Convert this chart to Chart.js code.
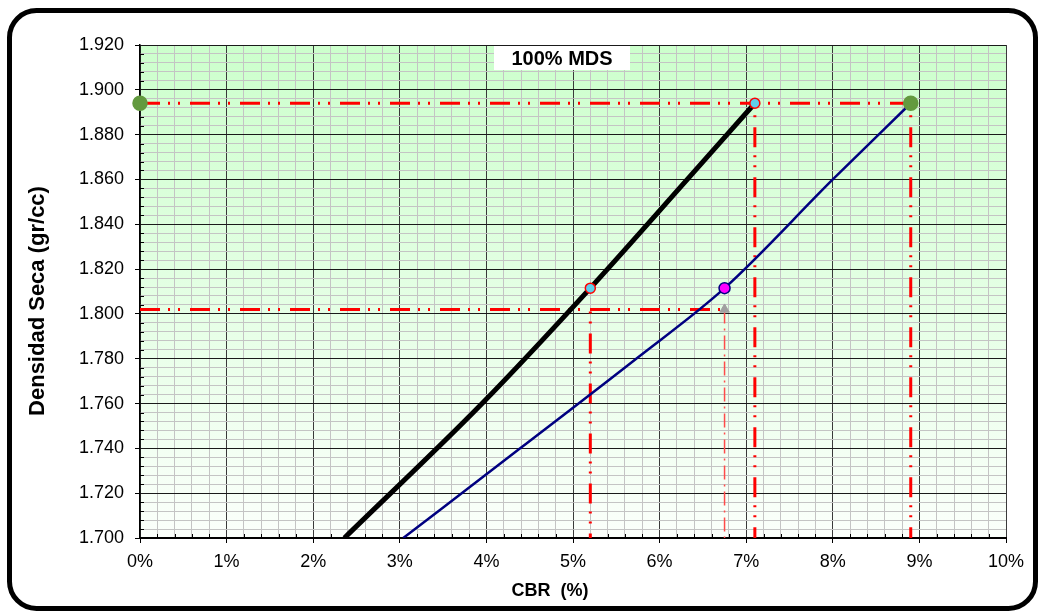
<!DOCTYPE html>
<html>
<head>
<meta charset="utf-8">
<title>CBR - Densidad Seca</title>
<script src="https://cdn.jsdelivr.net/npm/chart.js@4.4.1/dist/chart.umd.min.js"></script>
<style>
  html, body { margin: 0; padding: 0; background: #fff; }
  #wrap { width: 1040px; height: 611px; }
</style>
</head>
<body>
<div id="wrap"><canvas id="cbrChart" width="1040" height="611"></canvas></div>
<script>
// CBR vs densidad seca
// values

// AXES
const cbrRange  = [0, 10];          // CBR (%)
const densRange = [1.700, 1.920];   // gr/cc
const cbrSteps  = [0.2, 1];         // minor, major
const densSteps = [0.004, 0.02];

// CURVE 1 (black, thick)
const blackCbr  = [2.36, 3.95, 5.20, 6.32, 7.10];
const blackDens = [1.700, 1.760, 1.8115, 1.860, 1.894];

// CURVE 2 (navy)
const blueCbr  = [3.04, 4.39, 5.73, 6.75, 8.00, 8.90];
const blueDens = [1.700, 1.740, 1.780, 1.8115, 1.860, 1.894];

// GUIDE LINES (red, long dash dot dot)
const guideCbr  = [[0, 8.9], [0, 6.75], [7.1, 7.1], [8.9, 8.9], [5.2, 5.2]];
const guideDens = [[1.894, 1.894], [1.802, 1.802], [1.894, 1.700], [1.894, 1.700], [1.802, 1.700]];
const thinGuideCbr  = [6.75, 6.75];
const thinGuideDens = [1.802, 1.700];

// MARKERS
const greenCbr = [0, 8.9];   const greenDens = [1.894, 1.894];
const cyanCbr  = [5.2, 7.1]; const cyanDens  = [1.8115, 1.894];
const pinkCbr  = [6.75];     const pinkDens  = [1.8115];
const triCbr   = [6.75];     const triDens   = [1.802];

const FONT = "'Liberation Sans', Arial, sans-serif";

// pair x and y lists into chart points
function toPoints(xs, ys) {
  return xs.map((x, i) => ({ x, y: ys[i] }));
}

function isMajor(value, step) {
  const k = value / step;
  return Math.abs(k - Math.round(k)) < 1e-6;
}

function markerSet(xs, ys, opts) {
  return Object.assign({
    data: toPoints(xs, ys),
    showLine: false,
    clip: false,
    borderWidth: 1.5
  }, opts);
}

// background, minor ticks, title box, axis titles, frame
const sheetPlugin = {
  id: 'sheet',
  beforeDraw(chart) {
    const { ctx, chartArea: a } = chart;
    const g = ctx.createLinearGradient(0, a.top, 0, a.bottom);
    g.addColorStop(0, '#ccffcc');
    g.addColorStop(1, '#fbfffb');
    ctx.save();
    ctx.fillStyle = g;
    ctx.fillRect(a.left, a.top, a.right - a.left, a.bottom - a.top);
    ctx.restore();
  },
  beforeDatasetsDraw(chart) {
    const { ctx, chartArea: a, scales } = chart;
    ctx.save();
    ctx.strokeStyle = '#000';
    ctx.lineWidth = 1;
    ctx.beginPath();
    scales.x.ticks.forEach(t => {
      if (isMajor(t.value, cbrSteps[1])) return;
      const px = Math.round(scales.x.getPixelForValue(t.value)) + 0.5;
      ctx.moveTo(px, a.bottom);
      ctx.lineTo(px, a.bottom - 4);
    });
    scales.y.ticks.forEach(t => {
      if (isMajor(t.value, densSteps[1])) return;
      const py = Math.round(scales.y.getPixelForValue(t.value)) + 0.5;
      ctx.moveTo(a.left, py);
      ctx.lineTo(a.left + 4, py);
    });
    ctx.stroke();
    ctx.restore();
  },
  afterDraw(chart) {
    const { ctx } = chart;
    ctx.save();

    // "100% MDS" label box
    ctx.fillStyle = '#fff';
    ctx.fillRect(494, 46, 136, 24);
    ctx.fillStyle = '#000';
    ctx.font = 'bold 20px ' + FONT;
    ctx.textAlign = 'center';
    ctx.textBaseline = 'middle';
    ctx.fillText('100% MDS', 562, 59);

    // axis titles
    ctx.font = 'bold 18px ' + FONT;
    ctx.fillText('CBR  (%)', 550, 591);
    ctx.translate(38, 301);
    ctx.rotate(-Math.PI / 2);
    ctx.font = 'bold 22px ' + FONT;
    ctx.fillText('Densidad Seca (gr/cc)', 0, 0);
    ctx.setTransform(1, 0, 0, 1, 0, 0);

    // rounded outer frame
    ctx.strokeStyle = '#000';
    ctx.lineWidth = 5;
    ctx.beginPath();
    ctx.roundRect(9.5, 10.5, 1026, 598, 27);
    ctx.stroke();
    ctx.restore();
  }
};

const dashDotDot = [20, 8, 2, 8, 2, 10];

function buildChart() {
  const canvas = document.getElementById('cbrChart');

  const guides = guideCbr.map((xs, i) => ({
    data: toPoints(xs, guideDens[i]),
    borderColor: '#ff0000',
    borderWidth: 3,
    borderDash: dashDotDot,
    borderDashOffset: xs[0] === xs[1] ? 26 : 0,
    pointRadius: 0,
    clip: false
  }));

  const datasets = [
    // markers (drawn on top)
    markerSet(cyanCbr, cyanDens, { backgroundColor: '#5fd0ea', borderColor: '#ff0000', pointRadius: 5 }),
    markerSet([7.1], [1.894], { pointStyle: 'crossRot', borderColor: '#d9a520', borderWidth: 1, pointRadius: 6 }),
    markerSet(pinkCbr, pinkDens, { backgroundColor: '#ff00ff', borderColor: '#000080', pointRadius: 5.5 }),
    markerSet(triCbr, triDens, { pointStyle: 'triangle', backgroundColor: '#a0a0a0', borderColor: '#a0a0a0', pointRadius: 5.5, borderWidth: 1 }),
    markerSet(greenCbr, greenDens, { backgroundColor: '#639a3f', borderColor: '#639a3f', pointRadius: 7 }),

    // curves
    {
      data: toPoints(blackCbr, blackDens),
      borderColor: '#000',
      borderWidth: 5,
      pointRadius: 0,
      cubicInterpolationMode: 'monotone'
    },
    {
      data: toPoints(blueCbr, blueDens),
      borderColor: '#000080',
      borderWidth: 2.5,
      pointRadius: 0,
      cubicInterpolationMode: 'monotone'
    },

    // guide lines (drawn below)
    ...guides,
    {
      data: toPoints(thinGuideCbr, thinGuideDens),
      borderColor: '#ff4a4a',
      borderWidth: 1.5,
      borderDash: [14, 5, 2, 5],
      pointRadius: 0
    }
  ];

  new Chart(canvas, {
    type: 'line',
    data: { datasets },
    options: {
      responsive: false,
      animation: false,
      events: [],
      layout: { padding: { left: 28, right: 34, top: 45, bottom: 10 } },
      plugins: {
        legend: { display: false },
        tooltip: { enabled: false }
      },
      scales: {
        x: {
          type: 'linear',
          min: cbrRange[0],
          max: cbrRange[1],
          afterFit: (s) => { s.height = 63; },
          border: { color: '#000', width: 2 },
          grid: {
            color: (c) => isMajor(c.tick.value, cbrSteps[1]) ? '#3a3a3a' : '#c4c4c4',
            tickColor: (c) => isMajor(c.tick.value, cbrSteps[1]) ? '#000' : 'rgba(0,0,0,0)',
            tickLength: 5,
            lineWidth: 1
          },
          ticks: {
            stepSize: cbrSteps[0],
            autoSkip: false,
            maxRotation: 0,
            padding: 8,
            color: '#000',
            font: { family: FONT, size: 18 },
            callback: (v) => isMajor(v, cbrSteps[1]) ? Math.round(v) + '%' : ''
          }
        },
        y: {
          type: 'linear',
          min: densRange[0],
          max: densRange[1],
          afterFit: (s) => { s.width = 112; },
          border: { color: '#000', width: 1.5 },
          grid: {
            color: (c) => isMajor(c.tick.value, densSteps[1]) ? '#1a1a1a' : '#c4c4c4',
            tickColor: (c) => isMajor(c.tick.value, densSteps[1]) ? '#000' : 'rgba(0,0,0,0)',
            tickLength: 5,
            lineWidth: 1
          },
          ticks: {
            stepSize: densSteps[0],
            autoSkip: false,
            padding: 11,
            color: '#000',
            font: { family: FONT, size: 18 },
            callback: (v) => isMajor(v, densSteps[1]) ? v.toFixed(3) : ''
          }
        }
      }
    },
    plugins: [sheetPlugin]
  });
}

document.addEventListener('DOMContentLoaded', buildChart);
</script>
</body>
</html>
